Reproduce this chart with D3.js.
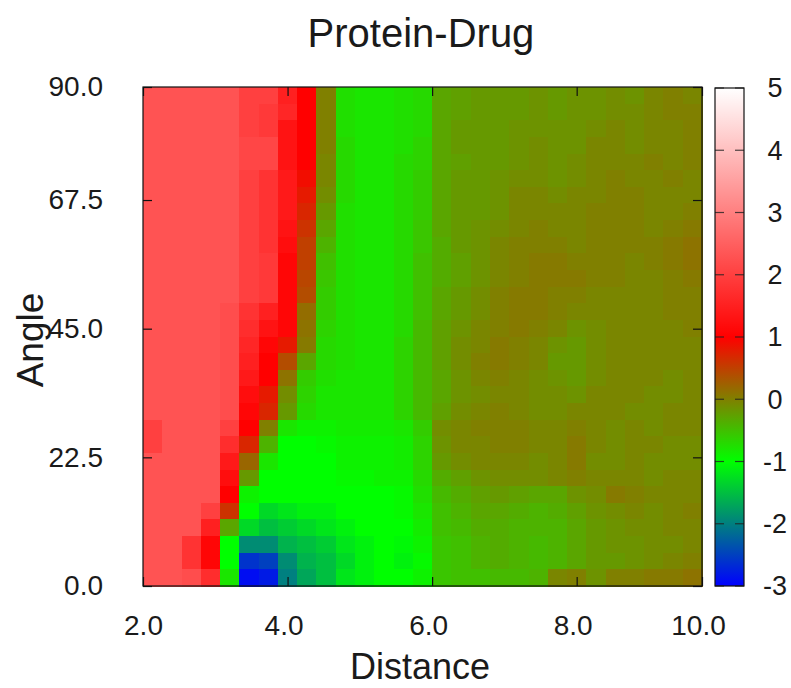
<!DOCTYPE html>
<html><head><meta charset="utf-8">
<script src="https://cdn.jsdelivr.net/npm/d3@7"></script>
<style>
body{margin:0;background:#fff}
text{font-family:"Liberation Sans",Arial,sans-serif;fill:#1a1a1a}
</style>
</head><body>
<svg id="chart" width="791" height="688"></svg>
<script>
const title = "Protein-Drug", xLabel = "Distance", yLabel = "Angle";
const xTicks = [2, 4, 6, 8, 10];
const xTickLabels = ["2.0", "4.0", "6.0", "8.0", "10.0"];
const yTicks = [0, 22.5, 45, 67.5, 90];
const yTickLabels = ["0.0", "22.5", "45.0", "67.5", "90.0"];
const cbTicks = [-3, -2, -1, 0, 1, 2, 3, 4, 5];
const paletteValues = [-3, -1, 0, 1, 5];
const paletteColors = ["#0000ff", "#00ff00", "#808000", "#ff0000", "#ffffff"];

// grid values, rows from top (angle 90) to bottom (angle 0), columns from distance 2 to 10
const zRows = [
[2.3,2.3,2.3,2.3,2.3, 2.0,2.0,1.5,1.0,0.0, -0.75,-0.8,-0.8,-0.75,-0.7, -0.3,-0.25,-0.2,-0.2,-0.2, -0.15,-0.2,-0.15,-0.15,-0.1, -0.15,-0.05,0.0,-0.05],
[2.3,2.3,2.3,2.3,2.3, 2.0,1.9,1.6,1.0,0.0, -0.75,-0.8,-0.8,-0.75,-0.7, -0.3,-0.25,-0.2,-0.2,-0.2, -0.15,-0.2,-0.15,-0.15,-0.1, -0.1,-0.05,0.0,0.0],
[2.3,2.3,2.3,2.3,2.3, 2.0,1.9,1.3,1.0,0.0, -0.75,-0.8,-0.8,-0.75,-0.7, -0.3,-0.2,-0.2,-0.2,-0.15, -0.15,-0.15,-0.15,-0.1,-0.05, -0.1,-0.05,-0.05,0.0],
[2.3,2.3,2.3,2.3,2.3, 2.1,2.1,1.3,1.0,0.0, -0.7,-0.8,-0.8,-0.75,-0.65, -0.3,-0.2,-0.2,-0.2,-0.15, -0.1,-0.15,-0.15,-0.05,-0.05, -0.1,-0.05,-0.05,0.0],
[2.3,2.3,2.3,2.3,2.3, 2.1,2.1,1.3,1.0,-0.05, -0.7,-0.8,-0.8,-0.7,-0.65, -0.3,-0.25,-0.2,-0.2,-0.15, -0.1,-0.15,-0.1,-0.05,-0.05, -0.05,0.0,-0.05,0.0],
[2.3,2.3,2.3,2.3,2.3, 2.0,1.8,1.4,0.9,-0.05, -0.7,-0.8,-0.8,-0.7,-0.6, -0.3,-0.2,-0.2,-0.15,-0.1, -0.1,-0.15,-0.1,-0.05,0.0, -0.05,-0.05,0.0,-0.05],
[2.3,2.3,2.3,2.3,2.3, 2.0,1.8,1.4,0.8,-0.1, -0.7,-0.8,-0.8,-0.7,-0.6, -0.3,-0.2,-0.2,-0.15,-0.05, -0.05,-0.1,-0.05,-0.05,0.0, 0.0,-0.05,-0.05,-0.05],
[2.3,2.3,2.3,2.3,2.3, 2.0,1.8,1.4,0.7,-0.2, -0.75,-0.8,-0.8,-0.7,-0.6, -0.3,-0.2,-0.2,-0.15,-0.05, -0.05,-0.05,-0.05,0.0,0.0, 0.0,-0.05,-0.05,0.0],
[2.3,2.3,2.3,2.3,2.3, 2.0,1.8,1.3,0.6,-0.3, -0.75,-0.8,-0.8,-0.7,-0.55, -0.3,-0.2,-0.15,-0.1,-0.05, 0.0,-0.05,-0.05,0.0,0.0, 0.0,-0.05,0.0,0.05],
[2.3,2.3,2.3,2.3,2.3, 2.0,1.8,1.2,0.5,-0.4, -0.75,-0.8,-0.8,-0.7,-0.55, -0.35,-0.2,-0.15,-0.05,0.0, 0.0,0.0,-0.05,0.0,0.0, 0.0,0.0,0.05,0.1],
[2.3,2.3,2.3,2.3,2.3, 2.0,1.9,1.1,0.5,-0.5, -0.75,-0.8,-0.8,-0.7,-0.5, -0.35,-0.25,-0.15,-0.05,0.0, 0.05,0.05,0.0,0.0,0.0, -0.05,0.0,0.05,0.1],
[2.3,2.3,2.3,2.3,2.3, 2.0,1.9,1.1,0.45,-0.55, -0.75,-0.8,-0.8,-0.7,-0.5, -0.35,-0.25,-0.15,-0.05,0.0, 0.05,0.05,0.05,0.0,0.0, -0.05,-0.05,0.0,0.05],
[2.3,2.3,2.3,2.3,2.3, 2.0,1.9,1.1,0.4,-0.6, -0.75,-0.8,-0.8,-0.7,-0.5, -0.3,-0.2,-0.1,0.0,0.05, 0.05,0.0,0.0,-0.05,-0.05, -0.05,-0.05,0.0,0.0],
[2.3,2.3,2.3,2.3,2.2, 1.8,1.5,1.1,0.15,-0.6, -0.75,-0.8,-0.8,-0.7,-0.5, -0.3,-0.2,-0.1,0.0,0.05, 0.05,0.0,-0.05,-0.05,-0.05, -0.05,-0.05,0.0,0.0],
[2.3,2.3,2.3,2.3,2.2, 1.7,1.3,1.1,0.1,-0.65, -0.75,-0.8,-0.8,-0.7,-0.45, -0.25,-0.15,-0.05,0.0,0.05, 0.0,-0.05,-0.15,-0.1,-0.05, -0.05,-0.05,-0.05,0.0],
[2.3,2.3,2.3,2.3,2.2, 1.6,1.1,0.8,0.05,-0.7, -0.75,-0.8,-0.8,-0.65,-0.45, -0.25,-0.1,-0.05,0.05,0.0, -0.05,-0.15,-0.2,-0.1,-0.05, -0.05,-0.05,-0.05,-0.05],
[2.3,2.3,2.3,2.3,2.2, 1.5,1.0,0.4,-0.3,-0.7, -0.75,-0.8,-0.8,-0.65,-0.45, -0.25,-0.1,0.0,0.05,0.0, -0.05,-0.2,-0.2,-0.1,-0.05, -0.05,-0.05,-0.05,-0.05],
[2.3,2.3,2.3,2.3,2.2, 1.4,1.0,0.1,-0.6,-0.75, -0.8,-0.8,-0.8,-0.65,-0.45, -0.3,-0.15,-0.05,0.0,-0.05, -0.1,-0.15,-0.2,-0.1,-0.05, -0.05,-0.05,-0.1,-0.05],
[2.3,2.3,2.3,2.3,2.2, 1.2,0.8,-0.1,-0.65,-0.8, -0.8,-0.8,-0.8,-0.65,-0.45, -0.3,-0.15,-0.1,-0.05,-0.05, -0.1,-0.1,-0.15,-0.05,-0.05, -0.05,-0.1,-0.1,-0.05],
[2.3,2.3,2.3,2.3,2.2, 1.1,0.7,-0.2,-0.7,-0.8, -0.8,-0.8,-0.8,-0.65,-0.45, -0.25,-0.1,-0.05,0.0,-0.05, -0.1,-0.1,-0.05,-0.05,-0.05, -0.1,-0.1,-0.05,-0.05],
[2.0,2.3,2.3,2.3,2.0, 1.0,0.0,-0.8,-0.9,-0.9, -0.85,-0.85,-0.85,-0.8,-0.6, -0.1,-0.05,0.0,0.0,0.0, -0.05,-0.05,0.0,-0.05,-0.1, -0.05,-0.1,-0.05,-0.05],
[2.0,2.3,2.3,2.3,1.7, 0.7,-0.4,-1.0,-1.0,-0.95, -0.9,-0.9,-0.9,-0.85,-0.65, -0.15,-0.05,-0.05,0.0,0.0, -0.05,-0.05,0.05,-0.05,-0.1, -0.05,-0.05,-0.1,-0.1],
[2.3,2.3,2.3,2.3,1.4, 0.2,-0.8,-1.0,-1.0,-1.0, -0.9,-0.9,-0.9,-0.85,-0.65, -0.2,-0.1,-0.05,-0.05,-0.05, -0.1,-0.05,0.05,-0.1,-0.1, -0.05,-0.1,-0.1,-0.1],
[2.3,2.3,2.3,2.3,1.2, -0.2,-1.0,-1.0,-1.0,-1.0, -0.95,-0.95,-0.9,-0.9,-0.7, -0.35,-0.25,-0.15,-0.1,-0.1, -0.1,-0.05,0.0,-0.05,-0.05, -0.05,-0.1,-0.05,-0.05],
[2.3,2.3,2.3,2.3,1.0, -0.9,-1.0,-1.0,-1.0,-1.0, -1.0,-1.0,-1.0,-0.95,-0.75, -0.45,-0.35,-0.25,-0.2,-0.25, -0.3,-0.3,-0.15,-0.1,0.05, 0.0,-0.05,-0.05,-0.05],
[2.3,2.3,2.3,2.0,0.6, -1.0,-1.3,-1.2,-1.1,-1.1, -1.0,-1.0,-1.0,-0.95,-0.8, -0.5,-0.4,-0.3,-0.3,-0.35, -0.4,-0.35,-0.25,-0.15,-0.1, -0.05,-0.1,-0.05,0.0],
[2.3,2.3,2.3,1.5,-0.3, -1.3,-1.5,-1.4,-1.3,-1.2, -1.1,-1.0,-1.0,-1.0,-0.85, -0.5,-0.45,-0.35,-0.35,-0.4, -0.4,-0.4,-0.3,-0.2,-0.15, -0.1,-0.1,-0.05,-0.05],
[2.3,2.3,1.8,1.1,-1.0, -1.9,-1.9,-1.6,-1.5,-1.4, -1.2,-1.1,-1.0,-1.05,-0.9, -0.55,-0.5,-0.4,-0.35,-0.4, -0.45,-0.4,-0.3,-0.2,-0.15, -0.15,-0.1,-0.1,-0.05],
[2.3,2.3,1.8,1.1,-1.0, -2.6,-2.5,-1.9,-1.6,-1.5, -1.3,-1.1,-1.0,-1.1,-0.95, -0.55,-0.5,-0.4,-0.35,-0.4, -0.45,-0.4,-0.3,-0.2,-0.2, -0.15,-0.1,-0.05,0.0],
[2.3,2.3,2.2,1.7,-0.8, -2.9,-2.8,-2.0,-1.7,-1.5, -1.2,-1.1,-1.0,-1.0,-0.9, -0.55,-0.5,-0.5,-0.45,-0.45, -0.4,-0.05,0.0,-0.15,0.0, 0.0,0.05,0.05,0.1]
];

const svg = d3.select("#chart");
const L = 143, R = 702, T = 87, B = 586;
const nRows = zRows.length, nCols = zRows[0].length;

const color = d3.scaleLinear().domain(paletteValues).range(paletteColors).interpolate(d3.interpolateRgb).clamp(true);

// cell scales (uniform bins)
const colScale = d3.scaleBand().domain(d3.range(nCols)).range([L, R]);
const rowScale = d3.scaleBand().domain(d3.range(nRows)).range([T, B]);

// axis scales as in the original figure
const xAxisScale = d3.scaleLinear().domain([2, 8, 10]).range([L, L + 0.7758 * (R - L), R]);
const yAxisScale = d3.scaleLinear().domain([0, 67.5, 90]).range([B, B - 0.7735 * (B - T), T]);

const cells = [];
zRows.forEach((row, r) => row.forEach((v, c) => cells.push({r, c, v})));

svg.append("g").selectAll("rect").data(cells).join("rect")
  .attr("x", d => colScale(d.c))
  .attr("y", d => rowScale(d.r))
  .attr("width", colScale.bandwidth() + 0.5)
  .attr("height", rowScale.bandwidth() + 0.5)
  .attr("fill", d => color(d.v))
  .attr("shape-rendering", "crispEdges");

function styleAxis(g, showText) {
  g.select(".domain").remove();
  g.selectAll(".tick line").attr("stroke", "#111").attr("stroke-width", 1.2);
  g.selectAll(".tick text").attr("font-size", 28).attr("fill", "#1a1a1a")
    .attr("font-family", "'Liberation Sans', Arial, sans-serif");
  if (!showText) g.selectAll(".tick text").remove();
}

const fmtX = (d, i) => xTickLabels[i];
const fmtY = (d, i) => yTickLabels[i];

const gxb = svg.append("g").attr("transform", `translate(0,${B})`)
  .call(d3.axisBottom(xAxisScale).tickValues(xTicks).tickFormat(fmtX).tickSizeInner(-9).tickSizeOuter(0).tickPadding(29));
styleAxis(gxb, true);
gxb.selectAll(".tick text").attr("dx", (d, i) => i === 0 ? 0 : -4);

const gxt = svg.append("g").attr("transform", `translate(0,${T})`)
  .call(d3.axisTop(xAxisScale).tickValues(xTicks).tickSizeInner(-9).tickSizeOuter(0));
styleAxis(gxt, false);

const gyl = svg.append("g").attr("transform", `translate(${L},0)`)
  .call(d3.axisLeft(yAxisScale).tickValues(yTicks).tickFormat(fmtY).tickSizeInner(-9).tickSizeOuter(0).tickPadding(40));
styleAxis(gyl, true);

const gyr = svg.append("g").attr("transform", `translate(${R},0)`)
  .call(d3.axisRight(yAxisScale).tickValues(yTicks).tickSizeInner(-9).tickSizeOuter(0));
styleAxis(gyr, false);

// frame
svg.append("rect").attr("x", L).attr("y", T).attr("width", R - L).attr("height", B - T)
  .attr("fill", "none").attr("stroke", "#111").attr("stroke-width", 1.2);

// colorbar
const cbL = 715, cbR = 744, cbT = 88, cbB = 586;
const cbScale = d3.scaleLinear().domain([-3, 5]).range([cbB, cbT]);
const grad = svg.append("defs").append("linearGradient").attr("id", "cbgrad")
  .attr("x1", 0).attr("y1", 1).attr("x2", 0).attr("y2", 0);
grad.selectAll("stop").data(paletteValues).join("stop")
  .attr("offset", d => (d - (-3)) / 8)
  .attr("stop-color", d => color(d));
svg.append("rect").attr("x", cbL).attr("y", cbT).attr("width", cbR - cbL).attr("height", cbB - cbT)
  .attr("fill", "url(#cbgrad)");
const cbG = svg.append("g");
cbTicks.forEach(t => {
  const y = cbScale(t);
  cbG.append("line").attr("x1", cbL).attr("x2", cbL + 9).attr("y1", y).attr("y2", y)
    .attr("stroke", "#222").attr("stroke-width", 1.2).attr("opacity", 0.8);
  cbG.append("line").attr("x1", cbR - 9).attr("x2", cbR).attr("y1", y).attr("y2", y)
    .attr("stroke", "#222").attr("stroke-width", 1.2).attr("opacity", 0.8);
  cbG.append("text").attr("x", 775).attr("y", y).attr("dy", "0.35em")
    .attr("text-anchor", "middle").attr("font-size", 27).text(t);
});
svg.append("rect").attr("x", cbL).attr("y", cbT).attr("width", cbR - cbL).attr("height", cbB - cbT)
  .attr("fill", "none").attr("stroke", "#111").attr("stroke-width", 1.2);

// titles
svg.append("text").attr("x", 421).attr("y", 47).attr("text-anchor", "middle")
  .attr("font-size", 40).text(title);
svg.append("text").attr("x", 420).attr("y", 679).attr("text-anchor", "middle")
  .attr("font-size", 36).text(xLabel);
svg.append("text").attr("transform", "translate(43,340) rotate(-90)").attr("text-anchor", "middle")
  .attr("font-size", 37).text(yLabel);
</script>
</body></html>
